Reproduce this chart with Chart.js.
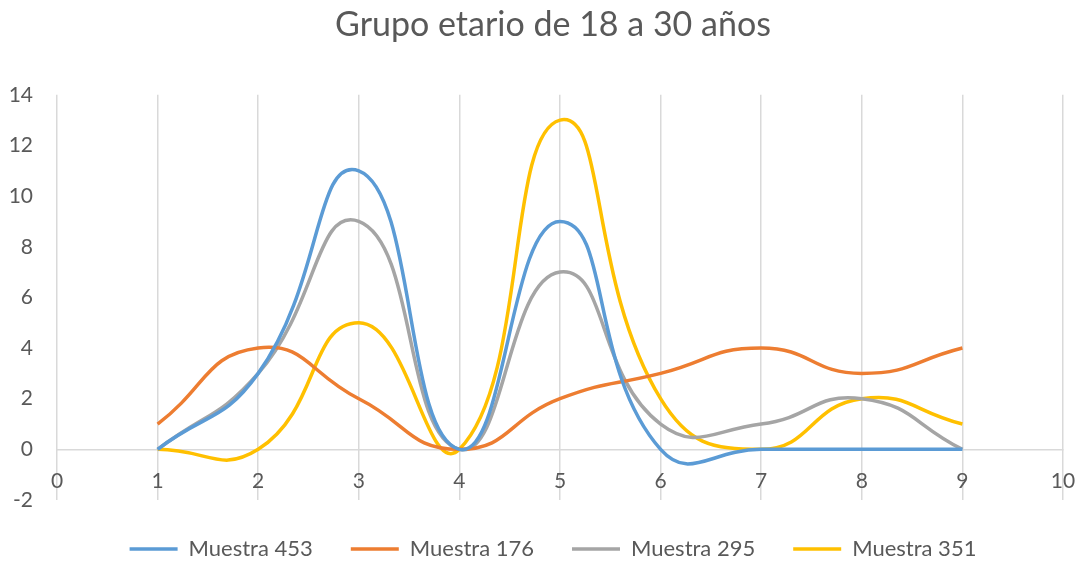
<!DOCTYPE html>
<html>
<head>
<meta charset="utf-8">
<script src="https://cdn.jsdelivr.net/npm/chart.js@4.4.1/dist/chart.umd.min.js"></script>
<style>
  html, body { margin: 0; padding: 0; background: #ffffff; }
  #wrap { width: 1080px; height: 562px; }
</style>
</head>
<body>
<div id="wrap"><canvas id="c" width="1080" height="562"></canvas></div>
<script>
// Muestras por grupo etario (18–30 años), valores en x = 1..9
const xValues = [1, 2, 3, 4, 5, 6, 7, 8, 9];
const muestra453 = [0, 3, 11, 0, 9, 0, 0, 0, 0];
const muestra176 = [1, 4, 2, 0, 2, 3, 4, 3, 4];
const muestra295 = [0, 3, 9, 0, 7, 1, 1, 2, 0];
const muestra351 = [0, 0, 5, 0, 13, 2, 0, 2, 1];
const seriesNames = ['Muestra 453', 'Muestra 176', 'Muestra 295', 'Muestra 351'];
const seriesColors = ['#5B9BD5', '#ED7D31', '#A5A5A5', '#FFC000'];
const chartTitle = 'Grupo etario de 18 a 30 años';

const FONT = 'Lato, "Open Sans", sans-serif';
const TEXT = '#595959';
const GRID = '#D9D9D9';

function toPoints(ys) {
  return xValues.map((x, i) => ({ x: x, y: ys[i] }));
}

const allSeries = [muestra453, muestra176, muestra295, muestra351];
const datasets = allSeries.map((ys, i) => ({
  label: seriesNames[i],
  data: toPoints(ys),
  borderColor: seriesColors[i],
  backgroundColor: seriesColors[i],
  borderWidth: 3.5,
  pointRadius: 0,
  pointHoverRadius: 0,
  pointStyle: 'line',
  tension: 0.5,
  fill: false
}));

new Chart(document.getElementById('c'), {
  type: 'scatter',
  data: { datasets: datasets },
  options: {
    responsive: false,
    animation: false,
    showLine: true,
    // negative right padding shifts the centred title and legend slightly right
    layout: { padding: { left: 8, right: -18, top: 0, bottom: -8 } },
    plugins: {
      tooltip: { enabled: false },
      title: {
        display: true,
        text: chartTitle,
        color: TEXT,
        font: { family: FONT, size: 34, weight: 'normal' },
        padding: { top: 5, bottom: 49 }
      },
      legend: {
        position: 'bottom',
        labels: {
          usePointStyle: true,
          pointStyleWidth: 48,
          color: TEXT,
          font: { family: FONT, size: 22 },
          padding: 38
        }
      }
    },
    scales: {
      x: {
        type: 'linear',
        position: { y: 0 },
        min: 0,
        max: 10,
        // right margin of the plot, leaves room for the "10" label
        afterFit: (scale) => { scale.paddingLeft = 0; scale.paddingRight = 17; },
        ticks: {
          stepSize: 1,
          color: TEXT,
          font: { family: FONT, size: 21 },
          padding: 19
        },
        grid: { color: GRID, lineWidth: 1.5, drawTicks: false },
        border: { display: true, color: GRID, width: 1.5 }
      },
      y: {
        type: 'linear',
        min: -2,
        max: 14,
        afterFit: (scale) => { scale.width = 49; },
        ticks: {
          stepSize: 2,
          color: TEXT,
          font: { family: FONT, size: 21 },
          padding: 24
        },
        grid: { display: false, drawTicks: false },
        border: { display: false }
      }
    }
  }
});
</script>
</body>
</html>
